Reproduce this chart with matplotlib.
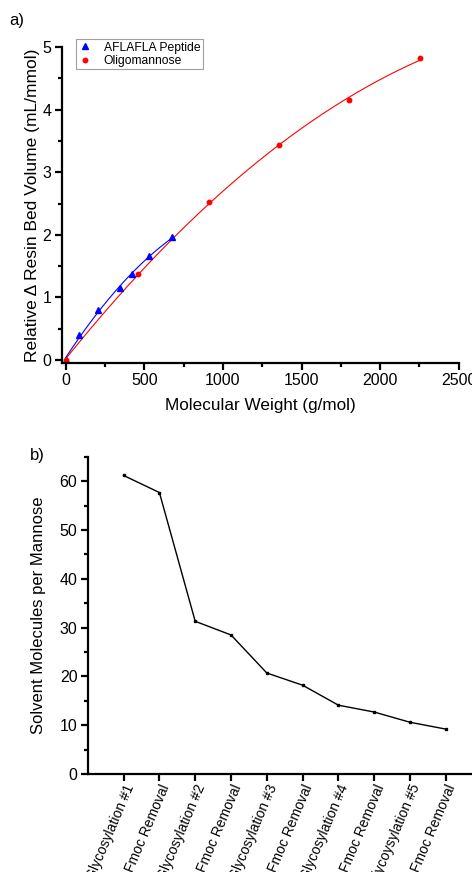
import numpy as np
import matplotlib
matplotlib.use("Agg")
import matplotlib.pyplot as plt
from matplotlib.ticker import MultipleLocator

plt.rcParams['font.family'] = ['Liberation Sans', 'DejaVu Sans']

# panel a data
pep_mw = [0, 87, 204, 346, 420, 532, 677]
pep_vol = [0, 0.40, 0.80, 1.145, 1.37, 1.66, 1.96]
man_mw = [0, 460, 913, 1357, 1804, 2252]
man_vol = [0, 1.38, 2.53, 3.43, 4.15, 4.82]

# panel b data
steps = ["Glycosylation #1", "Fmoc Removal", "Glycosylation #2", "Fmoc Removal",
         "Glycosylation #3", "Fmoc Removal", "Glycosylation #4", "Fmoc Removal",
         "Glycoysylation #5", "Fmoc Removal"]
solvent = [61.2, 57.7, 31.3, 28.5, 20.7, 18.2, 14.1, 12.7, 10.6, 9.2]

fig = plt.figure(figsize=(4.72, 8.72), dpi=100)

def style(ax):
    for s in ['top', 'right']:
        ax.spines[s].set_visible(False)
    for s in ['left', 'bottom']:
        ax.spines[s].set_linewidth(1.6)
    ax.tick_params(which='major', direction='out', length=5, width=1.6, labelsize=11.5, pad=2.5)
    ax.tick_params(which='minor', direction='out', length=3, width=1.6)

# ---- a) ----
ax1 = fig.add_axes([0.131, 0.584, 0.841, 0.362])
style(ax1)
p = np.polyfit(pep_mw, pep_vol, 2)
xs = np.linspace(0, max(pep_mw), 200)
ax1.plot(xs, np.polyval(p, xs), color='blue', lw=0.8)
q = np.polyfit(man_mw, man_vol, 2)
xs2 = np.linspace(0, max(man_mw), 200)
ax1.plot(xs2, np.polyval(q, xs2), color='red', lw=0.8)
ax1.plot(pep_mw, pep_vol, '^', color='blue', ms=3.8, label='AFLAFLA Peptide')
ax1.plot(man_mw, man_vol, 'o', color='red', ms=3.2, label='Oligomannose')
ax1.set_xlim(-25, 2500)
ax1.set_ylim(-0.045, 5)
ax1.xaxis.set_major_locator(MultipleLocator(500))
ax1.xaxis.set_minor_locator(MultipleLocator(250))
ax1.yaxis.set_major_locator(MultipleLocator(1))
ax1.yaxis.set_minor_locator(MultipleLocator(0.5))
ax1.set_xlabel('Molecular Weight (g/mol)', fontsize=12.3, labelpad=7)
ax1.set_ylabel('Relative Δ Resin Bed Volume (mL/mmol)', fontsize=12.5, labelpad=1.5)
leg = ax1.legend(loc='upper left', bbox_to_anchor=(0.035, 1.025), fontsize=8.7,
                 frameon=True, fancybox=False, handlelength=1.2, borderpad=0.2,
                 labelspacing=0.1, handletextpad=0.9, borderaxespad=0)
leg.get_frame().set_edgecolor('#888888')
leg.get_frame().set_linewidth(0.8)
fig.text(0.02, 0.977, 'a)', fontsize=12, va='center')

# ---- b) ----
ax2 = fig.add_axes([0.186, 0.1124, 0.814, 0.3636])
style(ax2)
xpos = np.arange(1, len(steps) + 1)
ax2.plot(xpos, solvent, '-s', color='black', lw=1, ms=2)
ax2.set_xlim(0, 10.73)
ax2.set_ylim(0, 65)
ax2.set_xticks(xpos)
ax2.tick_params(axis='x', pad=1)
ax2.set_xticklabels(steps, rotation=67, ha='right', va='top', rotation_mode='anchor',
                    fontsize=10)
for lbl in ax2.get_xticklabels():
    lbl.set_x(lbl.get_position()[0] + 0.1)
ax2.yaxis.set_major_locator(MultipleLocator(10))
ax2.yaxis.set_minor_locator(MultipleLocator(5))
ax2.set_ylabel('Solvent Molecules per Mannose', fontsize=12, labelpad=10)
fig.text(0.063, 0.478, 'b)', fontsize=12, va='center')

fig.savefig('out.png', dpi=100)
